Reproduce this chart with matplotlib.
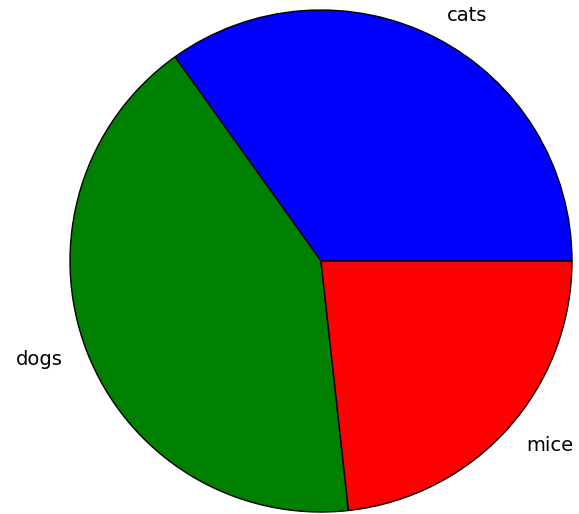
import matplotlib
matplotlib.use("Agg")
import matplotlib.pyplot as plt

labels = ["cats", "dogs", "mice"]
values = [15, 18, 10]
colors = ["#0000ff", "#008000", "#ff0000"]

W, H = 579, 514
cx, cy, r = 321.0, 261.0, 251.0

fig = plt.figure(figsize=(W / 100, H / 100), dpi=100)
ax = fig.add_axes([0, 0, 1, 1])
wedges, texts = ax.pie(values, labels=labels, colors=colors, startangle=0,
                       counterclock=True, labeldistance=1.1,
                       wedgeprops=dict(edgecolor="black", linewidth=1.0),
                       textprops=dict(fontsize=14, family="DejaVu Sans", color="black"))
ax.set_aspect("auto")
ax.set_xlim(-cx / r, (W - cx) / r)
ax.set_ylim(-(H - cy) / r, cy / r)
ax.axis("off")
fig.savefig("out.png", dpi=100)
